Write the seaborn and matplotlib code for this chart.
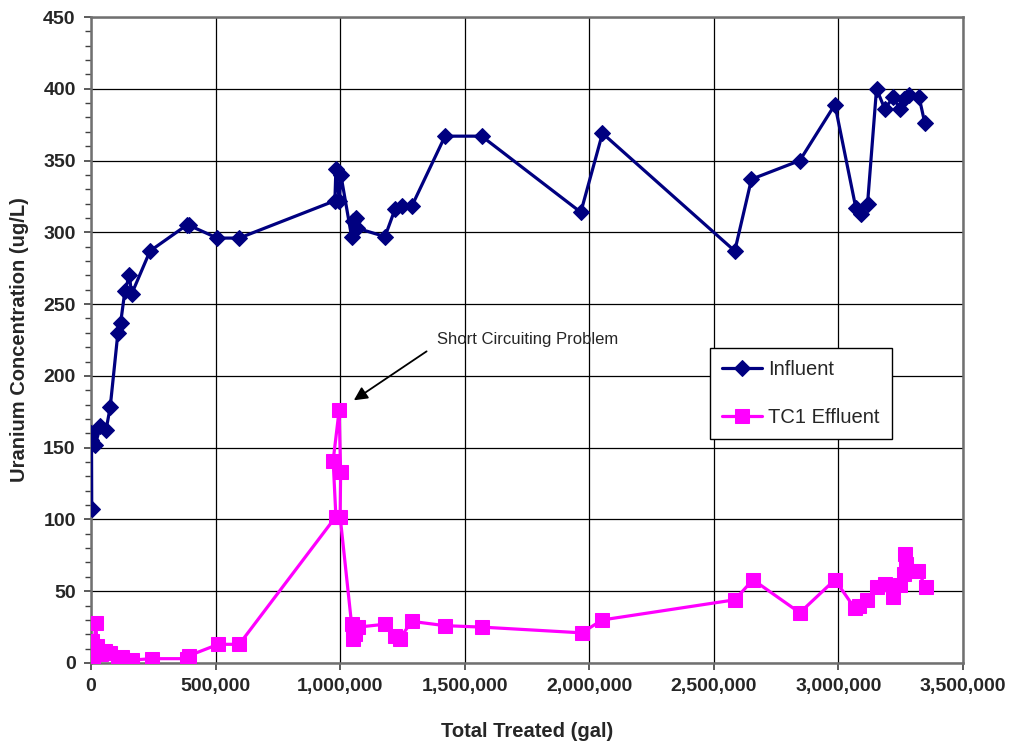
import numpy as np
import pandas as pd
import seaborn as sns
import matplotlib.pyplot as plt
from matplotlib.ticker import MultipleLocator, FuncFormatter

# ===================== data =====================
influent_gal = [3000, 2000, 0, 17000, 38000, 60000, 77000, 108000, 119000, 136000,
                154000, 163000, 237000, 384000, 392000, 507000, 595000, 979000, 983000, 997000,
                1003000, 1046000, 1053000, 1063000, 1066000, 1180000, 1220000, 1247000, 1287000, 1421000,
                1568000, 1966000, 2053000, 2584000, 2651000, 2845000, 2986000, 3070000, 3090000, 3117000,
                3153000, 3186000, 3220000, 3247000, 3263000, 3284000, 3324000, 3347000]
influent_ugl = [107, 160, 155, 152, 165, 162, 178, 230, 237, 259,
                270, 257, 287, 305, 305, 296, 296, 322, 344, 322,
                340, 297, 308, 310, 303, 297, 316, 318, 318, 367,
                367, 314, 369, 287, 337, 350, 389, 317, 313, 320,
                400, 386, 394, 386, 393, 396, 394, 376]

effluent_gal = [0, 3000, 5000, 10000, 19000, 25000, 40000, 57000, 76000, 110000,
                124000, 150000, 163000, 243000, 384000, 392000, 511000, 595000, 983000, 972000,
                996000, 1002000, 1000000, 1046000, 1050000, 1053000, 1058000, 1073000, 1180000, 1220000,
                1240000, 1287000, 1421000, 1568000, 1969000, 2053000, 2584000, 2657000, 2845000, 2986000,
                3066000, 3083000, 3115000, 3153000, 3186000, 3220000, 3247000, 3262000, 3267000, 3270000,
                3290000, 3320000, 3350000]
effluent_ugl = [10, 3, 15, 5, 28, 12, 6, 8, 7, 3,
                4, 1, 2, 3, 3, 5, 13, 13, 102, 141,
                176, 133, 102, 27, 22, 17, 20, 25, 27, 19,
                17, 29, 26, 25, 21, 30, 44, 58, 35, 58,
                38, 40, 44, 53, 55, 46, 54, 62, 76, 69,
                64, 64, 53]

series_names = ["Influent", "TC1 Effluent"]
series_colors = ["#000080", "#FF00FF"]

# ===================== style =====================
sns.set_style("white")
plt.rcParams["font.family"] = ["Liberation Sans", "DejaVu Sans"]

fig = plt.figure(figsize=(10.11, 7.43), dpi=100)
ax = fig.add_axes([0.090, 0.1077, 0.8625, 0.8694])

df_in = pd.DataFrame({"gal": influent_gal, "conc": influent_ugl})
df_out = pd.DataFrame({"gal": effluent_gal, "conc": effluent_ugl})

sns.lineplot(data=df_in, x="gal", y="conc", ax=ax, sort=False, estimator=None,
             color=series_colors[0], linewidth=2.3, marker="D", markersize=8.5,
             markeredgecolor=series_colors[0], label=series_names[0], zorder=4)
sns.lineplot(data=df_out, x="gal", y="conc", ax=ax, sort=False, estimator=None,
             color=series_colors[1], linewidth=2.3, marker="s", markersize=10.5,
             markeredgecolor=series_colors[1], label=series_names[1], zorder=3)

# ===================== axes =====================
ax.set_xlim(0, 3500000)
ax.set_ylim(0, 450)
ax.xaxis.set_major_locator(MultipleLocator(500000))
ax.yaxis.set_major_locator(MultipleLocator(50))
ax.yaxis.set_minor_locator(MultipleLocator(10))
ax.xaxis.set_major_formatter(FuncFormatter(lambda v, p: f"{int(v):,}"))

ax.grid(True, which="major", color="black", linewidth=0.9)
ax.set_axisbelow(True)
for s in ax.spines.values():
    s.set_color("#707070")
    s.set_linewidth(1.8)

ax.tick_params(axis="both", which="major", direction="out", length=5, width=1.2,
               color="#404040", labelsize=14, pad=6, left=True, bottom=True)
ax.tick_params(axis="y", which="minor", direction="out", length=4, width=1.0,
               color="#404040", left=True)
for lab in ax.get_xticklabels() + ax.get_yticklabels():
    lab.set_fontweight("bold")

ax.set_xlabel("Total Treated (gal)", fontsize=14.5, fontweight="bold", labelpad=19)
ax.set_ylabel("Uranium Concentration (ug/L)", fontsize=14.5, fontweight="bold", labelpad=10)

# ===================== annotation =====================
ax.annotate("Short Circuiting Problem", xy=(1055000, 183), xytext=(1388000, 225),
            fontsize=12, ha="left", va="center",
            arrowprops=dict(arrowstyle="-|>", color="black", lw=1.3,
                            mutation_scale=20, shrinkA=6, shrinkB=0,
                            relpos=(0.0, 0.2)))

# ===================== legend =====================
leg = ax.legend(loc="upper left", bbox_to_anchor=(0.7099, 0.4876), borderaxespad=0,
                fontsize=14.5, frameon=True, fancybox=False, edgecolor="black",
                framealpha=1, handlelength=2.0, labelspacing=1.45, borderpad=0.6,
                handletextpad=0.3)
leg.get_frame().set_linewidth(1.0)

fig.savefig("out.png", dpi=100)
